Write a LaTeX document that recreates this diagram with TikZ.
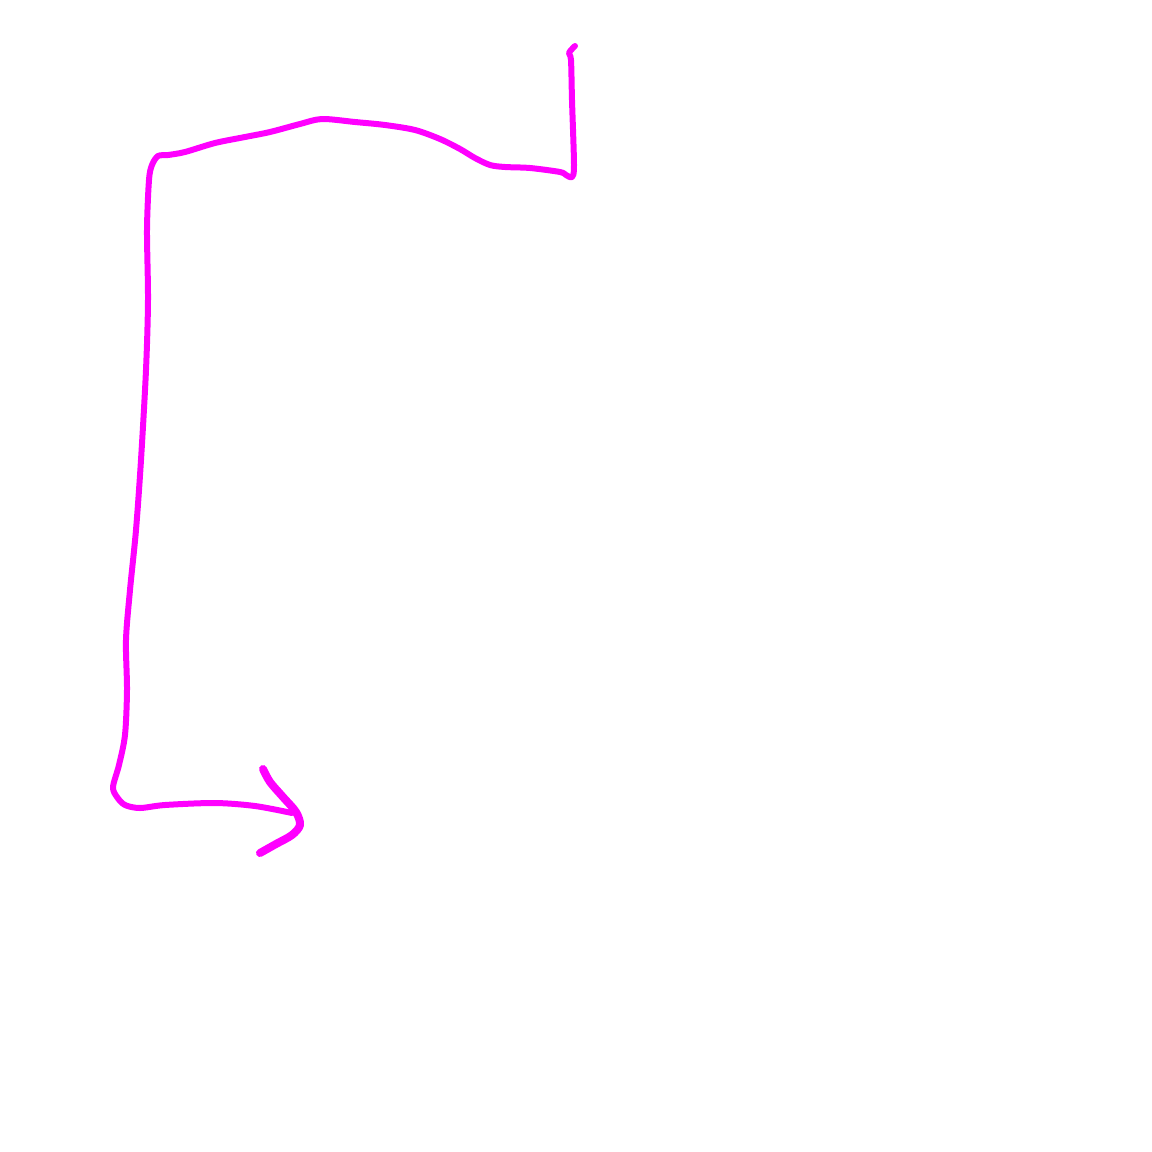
\documentclass[tikz,border=0pt]{standalone}
\begin{document}
\begin{tikzpicture}[x=1pt,y=-1pt,
  stroke/.style={draw={rgb,255:red,255;green,0;blue,255},line width=6pt,line cap=round,line join=round}]
\useasboundingbox[fill=white] (0,0) rectangle (1152,1152);
\path[stroke] plot[smooth,tension=0.5] coordinates {
 (575,46) (569,53) (571,60) (572,100) (574,165) (572,177) (566,175) (560,172) (530,168) (505,167) (490,165)
 (475,158) (460,149) (440,139) (415,130) (385,125) (355,122) (322,119) (300,124) (270,132) (245,137)
 (215,143) (185,152) (168,155) (158,156) (152,165) (149,180) (147,230) (148,300) (146,370)
 (141,460) (136,530) (130,590) (126,640) (127,690) (125,735) (119,765) (113,787) (117,797) (125,805)
 (140,808) (165,805) (215,803) (255,806) (292,813)};
\path[stroke,line width=8pt] plot[smooth,tension=0.5] coordinates {
 (263,769) (270,782) (283,797) (296,812) (300,825) (292,835) (276,844) (260,853)};
\end{tikzpicture}
\end{document}
